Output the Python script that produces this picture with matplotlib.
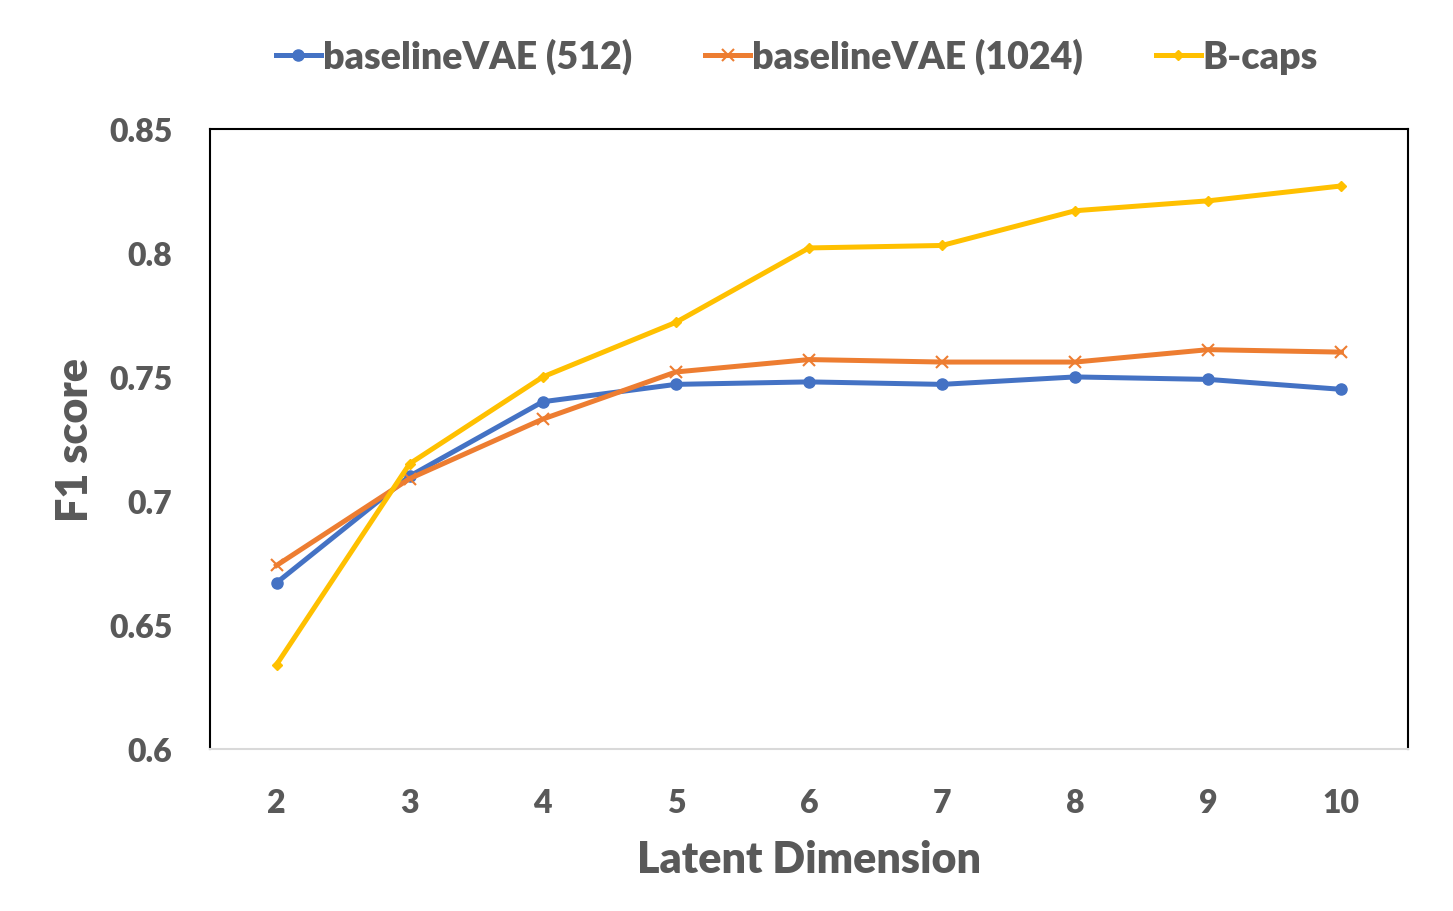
import numpy as np
import matplotlib.pyplot as plt

# data
dims = ['2', '3', '4', '5', '6', '7', '8', '9', '10']
vae512 = [0.667, 0.710, 0.740, 0.747, 0.748, 0.747, 0.750, 0.749, 0.745]
vae1024 = [0.674, 0.709, 0.733, 0.752, 0.757, 0.756, 0.756, 0.761, 0.760]
bcaps = [0.634, 0.715, 0.750, 0.772, 0.802, 0.803, 0.817, 0.821, 0.827]
yticks = [0.6, 0.65, 0.7, 0.75, 0.8, 0.85]
ytick_labels = ['0.6', '0.65', '0.7', '0.75', '0.8', '0.85']

plt.rcParams['font.family'] = ['Lato', 'DejaVu Sans']
plt.rcParams['font.weight'] = 'heavy'
plt.rcParams['axes.labelweight'] = 'heavy'
txt = '#595959'

fig = plt.figure(figsize=(14.53, 9.12), dpi=100)
ax = fig.add_axes([0.1445, 0.1776, 0.8245, 0.68])

x = np.arange(len(dims))
ax.plot(x, vae512, color='#4472C4', lw=3.6, marker='o', ms=8, label='baselineVAE (512)')
ax.plot(x, vae1024, color='#ED7D31', lw=3.6, marker='x', ms=8, mew=1.5, label='baselineVAE (1024)')
ax.plot(x, bcaps, color='#FFC000', lw=3.6, marker='D', ms=5, label='B-caps')

ax.set_xlim(-0.5, len(dims) - 0.5)
ax.set_ylim(0.6, 0.85)
ax.set_xticks(x)
ax.set_xticklabels(dims)
ax.set_yticks(yticks)
ax.set_yticklabels(ytick_labels)
ax.tick_params(length=0, labelsize=23, colors=txt)
ax.tick_params(axis='x', pad=28)
ax.tick_params(axis='y', pad=27)

for s in ['left', 'top', 'right']:
    ax.spines[s].set_color('black')
    ax.spines[s].set_linewidth(1.5)
ax.spines['bottom'].set_color('#D9D9D9')
ax.spines['bottom'].set_linewidth(1.5)

ax.set_xlabel('Latent Dimension', fontsize=31, color=txt, labelpad=16)
ax.set_ylabel('F1 score', fontsize=31, color=txt, labelpad=10)

ax.legend(loc='lower center', bbox_to_anchor=(0.49, 1.034), ncol=3, frameon=False,
          fontsize=27, labelcolor=txt, handlelength=1.2, handletextpad=0.05,
          columnspacing=1.95)

fig.savefig('out.png', dpi=100)
